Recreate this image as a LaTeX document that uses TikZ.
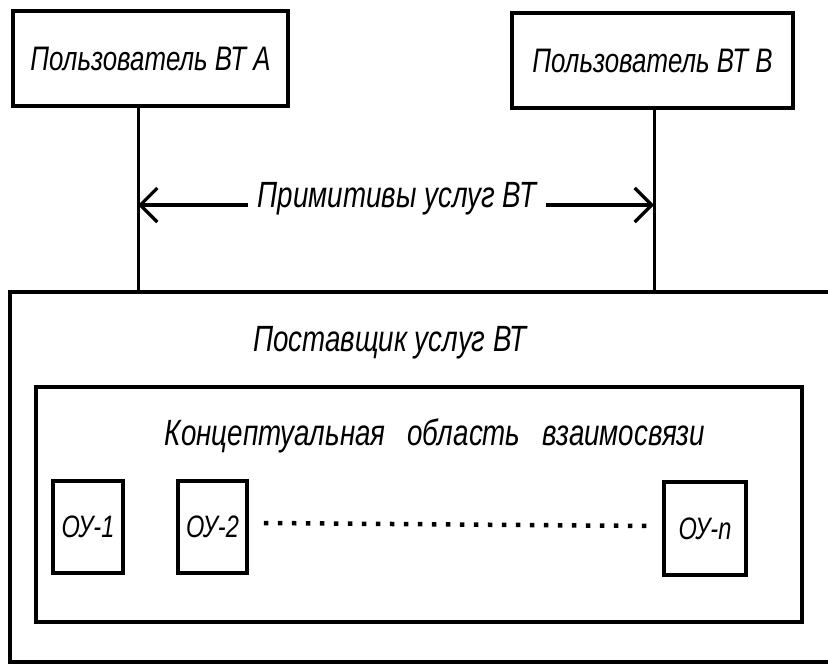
\documentclass[tikz,border=0pt]{standalone}
\usepackage{fontspec}
\setmainfont{Liberation Sans}[FakeStretch=0.76]
\usetikzlibrary{arrows.meta}
\begin{document}
\begin{tikzpicture}[x=1pt,y=-1pt,
  box/.style={draw, line width=3.6pt, inner sep=0pt},
  lbl/.style={font=\fontsize{34}{40}\selectfont\itshape},
  big/.style={font=\fontsize{36.5}{42}\selectfont\itshape},
  small/.style={font=\fontsize{31}{36}\selectfont\itshape},
  conn/.style={line width=3pt},
  arr/.style={line width=3.2pt, {Straight Barb[length=17pt,width=34pt]}-{Straight Barb[length=17pt,width=34pt]}},
  dotline/.style={line width=4.5pt, dash pattern=on 4.5pt off 9.5pt}]
\clip (0,0) rectangle (828,664);
\fill[white] (0,0) rectangle (828,664);
% user boxes
\node[box, lbl, minimum width=275pt, minimum height=95pt] (uA) at (150.5,58.5) {Пользователь ВТ А};
\node[box, lbl, minimum width=281pt, minimum height=95pt] (uB) at (652.5,60.5) {Пользователь ВТ В};
% provider and inner area
\node[box, minimum width=822pt, minimum height=370pt] (prov) at (421,477) {};
\node[box, minimum width=766pt, minimum height=235pt] (inner) at (419,504.5) {};
\node[big] (provt) at (390,343) {Поставщик услуг ВТ};
\node[big] (innert) at (435,436) {Концептуальная\hspace{22pt}область\hspace{22pt}взаимосвязи};
% OU boxes
\node[box, small, minimum width=70pt, minimum height=92pt] (ou1) at (88,527) {ОУ-1};
\node[box, small, minimum width=69pt, minimum height=92pt] (ou2) at (212.5,527) {ОУ-2};
\node[box, small, minimum width=82pt, minimum height=93pt] (oun) at (705,528.5) {ОУ-n};
\draw[dotline] ([xshift=15pt,yshift=4pt]ou2.east) -- ([xshift=-11pt,yshift=2.5pt]oun.west);
% connectors
\coordinate (a) at (138,0);
\coordinate (b) at (654,0);
\draw[conn] (uA.south -| a) -- (prov.north -| a);
\draw[conn] (uB.south -| b) -- (prov.north -| b);
\coordinate (pa) at (138,205);
\coordinate (pb) at (654,205);
\draw[arr] (pa) -- (pb);
\node[big, fill=white, inner xsep=10pt] (prim) at (397,199) {Примитивы услуг ВТ};
\end{tikzpicture}
\end{document}
